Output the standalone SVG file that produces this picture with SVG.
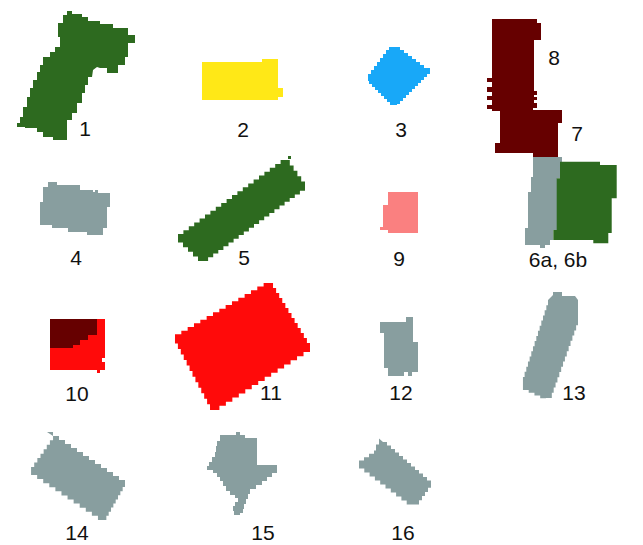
<svg xmlns="http://www.w3.org/2000/svg" width="643" height="545" viewBox="0 0 643 545">
<style>
.lbl{font-family:"Liberation Sans",Arial,sans-serif;font-size:21px;fill:#111;text-anchor:middle}
.green{fill:#2d6a1f}
.gray{fill:#889e9f}
.maroon{fill:#660000}
.red{fill:#ff0a0a}
</style>
<rect width="643" height="545" fill="#ffffff"/>
<g id="node-1">
<path class="green" d="M67,11 H72 V14 H82 V17 H88 V21 H100 V24 H113 V28 H128 V35 H135 V43 H128 V57 H125 V65 H118 V73 H107 V68 H100 L97,67 L93,70 L92,77 H88 V85 H85 V93 H82 V103 H77 V113 H72 V120 H67 V140 H53 V137 H43 V132 H37 V128 H25 V127 H17 V123 H20 V117 H23 V107 H27 V97 H30 V88 H33 V80 H37 V72 H40 V65 H43 V57 H50 V52 H55 V47 H60 V37 H58 V23 H63 V15 H67 Z"/>
<text class="lbl" x="85" y="136">1</text>
</g>
<g id="node-2">
<path fill="#ffe817" d="M202,62 H262 V59 H278 V88 H283 V97 H278 V100 H202 Z"/>
<text class="lbl" x="243" y="137">2</text>
</g>
<g id="node-3">
<path fill="#18a8f8" d="M389,47 h11 v3h4v3h4v3h4v3h4v3h4v3h4v3h4 h2 v3 v3h-3v3h-3v3h-3v3h-3v3h-3v3h-3v3h-3v3h-3v3h-3v3h-3v3h-3 v1 h-4 h-3v-3h-3v-3h-3v-3h-3v-3h-3v-3h-3v-3h-3v-3h-3v-3 h-1v-3 v-4h3v-4h3v-4h3v-4h3v-4h3v-4h3v-4h3 Z"/>
<text class="lbl" x="401" y="137">3</text>
</g>
<g id="node-8">
<path class="maroon" d="M492,19 H537 V23 H541 V40 H534 V91 H537 V95 H534 V97 H537 V100 H534 V103 H537 V108 H533 V111 H492 V109 H487 V105 H492 V100 H487 V96 H492 V92 H487 V87 H492 V82 H487 V78 H492 Z"/>
<text class="lbl" x="554" y="65">8</text>
</g>
<g id="node-7">
<path class="maroon" d="M500,110 H562 V123 H558 V157 H533 V153 H495 V143 H500 Z"/>
<text class="lbl" x="577" y="141">7</text>
</g>
<g id="node-6">
<path class="gray" d="M533,157 H562 V162 H560 V178 H557 V230 H553 V240 H550 V245 H545 V248 H540 V245 H525 V228 H528 V192 H531 V177 H533 Z"/>
<path class="green" d="M561.7,161.7 H600 V165 H616.7 V198.3 H611.7 V233 H608.3 V243.3 H593.3 V240 H553.3 V230 H556.7 V178.3 H560 V161.7 Z"/>
<text class="lbl" x="558" y="267">6a, 6b</text>
</g>
<g id="node-4">
<path class="gray" d="M48,182 H57 V185 H80 V190 H93 V192 H95 V190 H98 V193 H110 V207 H107 V228 H103 V235 H87 V232 H68 V228 H52 V225 H40 V202 H43 V187 H48 Z"/>
<text class="lbl" x="76" y="265">4</text>
</g>
<g id="node-5">
<rect class="green" x="288" y="156" width="3" height="3"/>
<path class="green" d="M178,238 v-3.9h5.4v-3.9h5.4v-3.9h5.4v-3.9h5.4v-3.9h5.4v-3.9h5.4v-3.9h5.4v-3.9h5.4v-3.9h5.4v-3.9h5.4v-3.9h5.4v-3.9h5.4v-3.9h5.4v-3.9h5.4v-3.9h5.4v-3.9h5.4v-3.9h5.4v-3.9h5.4v-3.9h5.4v-3.9h5.4 h3.8v5.4h3.8v5.4h3.8v5.4h3.8v5.4h3.8v5.4 v3.7h-5.1v3.7h-5.1v3.7h-5.1v3.7h-5.1v3.7h-5.1v3.7h-5.1v3.7h-5.1v3.7h-5.1v3.7h-5.1v3.7h-5.1v3.7h-5.1v3.7h-5.1v3.7h-5.1v3.7h-5.1v3.7h-5.1v3.7h-5.1v3.7h-5.1v3.7h-5.1v3.7h-5.1v3.7h-5.1 h-5v-4.6h-5v-4.6h-5v-4.6h-5v-4.6h-5v-4.6 Z"/>
<text class="lbl" x="244" y="265">5</text>
</g>
<g id="node-9">
<path fill="#fa8080" d="M388,192 H418 V233 H388 V230 H380 V227 H383 V205 H388 Z"/>
<text class="lbl" x="399" y="266">9</text>
</g>
<g id="node-10">
<path class="red" d="M50,319 H105 V358 H102 V362 H105 V370 H100 V373 H97 V370 H50 Z"/>
<path class="maroon" d="M50,319 H97 V335 H88 V340 H80 V345 H73 V348 H50 Z"/>
<text class="lbl" x="77" y="401">10</text>
</g>
<g id="node-11">
<path class="red" d="M175,338 v-3.67h6.33v-3.67h6.33v-3.67h6.33v-3.67h6.33v-3.67h6.33v-3.67h6.33v-3.67h6.33v-3.67h6.33v-3.67h6.33v-3.67h6.33v-3.67h6.33v-3.67h6.33v-3.67h6.33v-3.67h6.33v-3.67h6.33 h3.08v5h3.08v5h3.08v5h3.08v5h3.08v5h3.08v5h3.08v5h3.08v5h3.08v5h3.08v5h3.08v5h3.08v5h3.08v5 v4.13h-6.47v4.13h-6.47v4.13h-6.47v4.13h-6.47v4.13h-6.47v4.13h-6.47v4.13h-6.47v4.13h-6.47v4.13h-6.47v4.13h-6.47v4.13h-6.47v4.13h-6.47v4.13h-6.47v4.13h-6.47v4.13h-6.47 h-2.92v-5.54h-2.92v-5.54h-2.92v-5.54h-2.92v-5.54h-2.92v-5.54h-2.92v-5.54h-2.92v-5.54h-2.92v-5.54h-2.92v-5.54h-2.92v-5.54h-2.92v-5.54h-2.92v-5.54h-2.92v-5.54 Z"/>
<text class="lbl" x="271" y="400">11</text>
</g>
<g id="node-12">
<path class="gray" d="M380,322 H406 V317 H413 V342 H418 V372 H412 V376 H408 V372 H404 V376 H388 V368 H384 V333 H380 Z"/>
<text class="lbl" x="401" y="400">12</text>
</g>
<g id="node-13">
<path class="gray" d="M548,300 L553,295 V292 H562 V296 H575 L578,300 V320 v5.2h-1.87v5.2h-1.87v5.2h-1.87v5.2h-1.87v5.2h-1.87v5.2h-1.87v5.2h-1.87v5.2h-1.87v5.2h-1.87v5.2h-1.87v5.2h-1.87v5.2h-1.87v5.2h-1.87v5.2h-1.87v5.2h-1.87 h-4v3 v-2.75h-5.75v-2.75h-5.75v-2.75h-5.75v-2.75h-5.75 v-13 h1.67v-5.13h1.67v-5.13h1.67v-5.13h1.67v-5.13h1.67v-5.13h1.67v-5.13h1.67v-5.13h1.67v-5.13h1.67v-5.13h1.67v-5.13h1.67v-5.13h1.67v-5.13h1.67v-5.13h1.67v-5.13h1.67v-5.13 Z"/>
<text class="lbl" x="574" y="400">13</text>
</g>
<g id="node-14">
<path class="gray" d="M47,432 h6 v4h6v4h6v4h6v4h6v4h6v4h6v4h6v4h6v4h6v4h6v4h6v4h6 v3 v4.1h-2.33v4.1h-2.33v4.1h-2.33v4.1h-2.33v4.1h-2.33v4.1h-2.33v4.1h-2.33v4.1h-2.33v4.1h-2.33 h-6.08v-4.08h-6.08v-4.08h-6.08v-4.08h-6.08v-4.08h-6.08v-4.08h-6.08v-4.08h-6.08v-4.08h-6.08v-4.08h-6.08v-4.08h-6.08v-4.08h-6.08v-4.08h-6.08v-4.08 v-4 h3.14v-4.43h3.14v-4.43h3.14v-4.43h3.14v-4.43h3.14v-4.43h3.14v-4.43h3.14v-4.43 Z"/>
<text class="lbl" x="77" y="540">14</text>
</g>
<g id="node-15">
<path class="gray" d="M220,435 H236 V432 H240 V435 H245 V438 H257 V465 H277 V473 H272 V477 H267 V481 H262 V485 H256 V489 H250 V494 H248 V499 H246 V504 H244 V509 H243 V513 H240 V515 H234 V511 H233 V506 H235 V502 H238 V498 H235 V495 H230 V491 H226 V486 H223 V481 H220 V477 H217 V473 H213 V470 H207 V466 H209 V462 H212 V457 H215 V452 H216 V446 H217 V441 H220 Z"/>
<text class="lbl" x="263" y="540">15</text>
</g>
<g id="node-16">
<path class="gray" d="M383,442 h4 v3.5h4v3.5h4v3.5h4v3.5h4v3.5h4v3.5h4v3.5h4v3.5h4v3.5h4v3.5h4v3.5h4 v3 v4.2h-3v4.2h-3v4.2h-3v4.2h-3v4.2h-3 h-4 h-5.3v-4h-5.3v-4h-5.3v-4h-5.3v-4h-5.3v-4h-5.3v-4h-5.3v-4h-5.3v-4h-5.3v-4h-5.3v-4 v-4 h5v-3.33h5v-3.33h5v-3.33 h2v-6h3v-6 Z"/>
<text class="lbl" x="403" y="540">16</text>
</g>
</svg>
